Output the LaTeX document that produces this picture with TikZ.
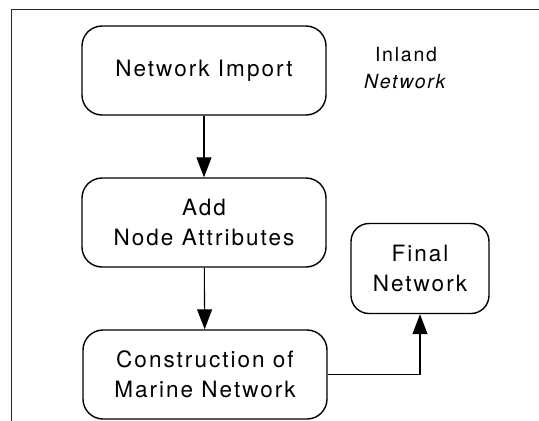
\documentclass[tikz,border=0pt]{standalone}
\usepackage{fontspec}
\setmainfont{TeX Gyre Heros}[LetterSpace=9]
\usetikzlibrary{arrows.meta}
\tikzset{
  procbox/.style={draw, line width=1.4pt, rounded corners=20pt, align=center,
    minimum width=244pt, minimum height=89pt, inner sep=0pt,
    font=\fontsize{22.5}{30}\selectfont},
  flow/.style={line width=1.1pt, -{Triangle[width=15pt,length=20pt]}},
  frameline/.style={line width=0.8pt, draw=black!85}
}
\begin{document}
\begin{tikzpicture}[x=1pt,y=-1pt]
\useasboundingbox (0,0) rectangle (539,421);
\coordinate (ftr) at (539,9.5);
\coordinate (fcorner) at (11,9.5);
\coordinate (fbl) at (11,421);
\draw[frameline] (ftr) -- (fcorner) -- (fbl);
\node[procbox] (imp) at (204,70.5) {Network Import};
\node[procbox] (attr) at (204,222.5) {Add\\Node Attributes};
\node[procbox] (mar) at (205,374.5) {Construction of\\Marine Network};
\node[procbox, minimum width=138pt, minimum height=90pt, rounded corners=18pt] (fin) at (420,268.5) {Final\\Network};
\node[align=center, font=\fontsize{19.5}{26.5}\selectfont] (inl) at (406,68) {Inland\\\textit{Network}};
\draw[flow] (imp) -- (attr);
\draw[flow] (attr) -- (mar);
\draw[flow] (mar.east) -| (fin.south);
\end{tikzpicture}
\end{document}
